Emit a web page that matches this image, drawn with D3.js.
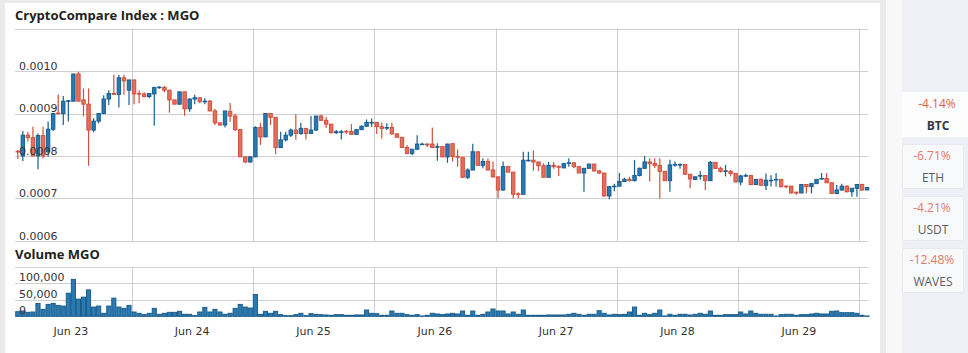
<!DOCTYPE html>
<html>
<head>
<meta charset="utf-8">
<script src="https://cdn.jsdelivr.net/npm/d3@7"></script>
<style>
  body { margin: 0; background: #eaeaea; overflow: hidden; }
  svg { display: block; }
</style>
</head>
<body>
<svg id="chart" width="968" height="353"></svg>
<script>
// Hourly candles starting Jun 23 01:00, prices in units of 0.0001
const PRICE_UNIT = 1e-4;
const VOLUME_UNIT = 1000;
const firstHour = Date.UTC(2018, 5, 23, 1);

const opens = [
  8.11, 8.00, 8.49, 8.43, 8.00, 8.48, 8.10, 8.63, 9.01, 9.00,
  9.29, 9.29, 9.93, 9.32, 9.22, 8.61, 8.82, 9.00, 9.34, 9.47,
  9.45, 9.84, 9.55, 9.79, 9.47, 9.46, 9.40, 9.46, 9.61, 9.61,
  9.55, 9.32, 9.22, 9.51, 9.11, 9.34, 9.37, 9.28, 9.29, 9.06,
  8.78, 8.73, 9.05, 8.94, 8.62, 7.98, 7.86, 7.98, 8.67, 8.45,
  9.00, 8.91, 8.20, 8.38, 8.49, 8.61, 8.53, 8.65, 8.53, 8.61,
  8.94, 8.84, 8.75, 8.55, 8.57, 8.58, 8.58, 8.51, 8.62, 8.70,
  8.79, 8.79, 8.69, 8.67, 8.67, 8.52, 8.44, 8.20, 8.06, 8.16,
  8.28, 8.28, 8.28, 8.22, 8.22, 7.98, 8.29, 7.99, 7.97, 7.50,
  7.67, 8.10, 7.78, 7.87, 7.67, 7.51, 7.20, 7.75, 7.62, 7.11,
  7.10, 7.90, 7.90, 7.86, 7.77, 7.50, 7.78, 7.75, 7.72, 7.84,
  7.84, 7.75, 7.60, 7.71, 7.81, 7.65, 7.60, 7.06, 7.29, 7.29,
  7.40, 7.45, 7.42, 7.54, 7.71, 7.86, 7.82, 7.78, 7.64, 7.42,
  7.79, 7.80, 7.80, 7.57, 7.45, 7.53, 7.54, 7.42, 7.85, 7.71,
  7.65, 7.64, 7.59, 7.39, 7.54, 7.54, 7.33, 7.45, 7.31, 7.43,
  7.45, 7.45, 7.29, 7.29, 7.15, 7.13, 7.33, 7.28, 7.35, 7.47,
  7.47, 7.37, 7.12, 7.20, 7.29, 7.16, 7.24, 7.33, 7.20
];
const highs = [
  8.14, 8.59, 8.57, 8.69, 8.53, 8.69, 8.81, 9.00, 9.45, 9.41,
  9.31, 9.93, 9.98, 9.59, 9.59, 8.89, 8.92, 9.43, 9.55, 9.91,
  9.91, 9.91, 9.79, 9.79, 9.55, 9.50, 9.47, 9.63, 9.65, 9.65,
  9.55, 9.32, 9.51, 9.51, 9.36, 9.44, 9.37, 9.36, 9.32, 9.11,
  8.78, 9.06, 9.25, 9.00, 8.62, 7.98, 7.98, 8.70, 8.78, 9.00,
  9.00, 8.91, 8.57, 8.57, 8.65, 8.98, 8.78, 8.65, 8.94, 8.94,
  8.97, 8.92, 8.75, 8.61, 8.61, 8.61, 8.75, 8.62, 8.72, 8.86,
  8.88, 8.79, 8.79, 8.77, 8.78, 8.53, 8.44, 8.26, 8.16, 8.49,
  8.31, 8.30, 8.67, 8.30, 8.22, 8.29, 8.29, 8.15, 7.97, 7.71,
  8.29, 8.10, 7.95, 7.94, 7.87, 7.51, 7.87, 7.75, 7.62, 7.15,
  8.10, 8.10, 8.13, 7.86, 7.83, 7.86, 7.86, 7.78, 7.84, 7.95,
  7.86, 7.75, 7.71, 7.81, 7.81, 7.67, 7.60, 7.29, 7.35, 7.60,
  7.49, 7.51, 7.91, 7.73, 8.00, 7.95, 7.95, 7.95, 7.64, 7.91,
  7.87, 7.83, 7.80, 7.57, 7.52, 7.65, 7.54, 7.88, 7.85, 7.75,
  7.79, 7.67, 7.59, 7.56, 7.58, 7.54, 7.45, 7.47, 7.59, 7.55,
  7.60, 7.45, 7.31, 7.29, 7.15, 7.33, 7.33, 7.37, 7.45, 7.60,
  7.60, 7.37, 7.32, 7.35, 7.31, 7.24, 7.33, 7.35, 7.26
];
const lows = [
  7.93, 7.88, 8.34, 8.00, 7.69, 7.95, 7.98, 8.59, 8.98, 8.73,
  8.81, 9.29, 9.29, 8.93, 7.77, 8.56, 8.77, 8.98, 9.20, 9.45,
  9.14, 9.44, 9.20, 9.22, 9.24, 9.38, 9.36, 8.71, 9.58, 9.50,
  9.02, 9.22, 9.20, 8.95, 9.04, 9.22, 9.24, 9.22, 9.06, 8.73,
  8.71, 8.67, 8.80, 8.59, 7.98, 7.83, 7.84, 7.97, 8.26, 8.45,
  8.73, 8.05, 8.20, 8.34, 8.45, 8.38, 8.50, 8.39, 8.53, 8.59,
  8.83, 8.66, 8.53, 8.52, 8.39, 8.52, 8.51, 8.51, 8.61, 8.69,
  8.69, 8.52, 8.41, 8.61, 8.50, 8.44, 8.20, 8.05, 8.02, 8.14,
  8.26, 8.21, 8.20, 7.89, 7.97, 7.84, 7.87, 7.75, 7.48, 7.46,
  7.67, 7.78, 7.71, 7.67, 7.49, 7.00, 7.18, 7.62, 7.00, 7.00,
  7.10, 7.87, 7.65, 7.65, 7.50, 7.50, 7.70, 7.53, 7.72, 7.75,
  7.71, 7.60, 7.16, 7.71, 7.63, 7.57, 7.04, 6.98, 7.17, 7.29,
  7.40, 7.40, 7.40, 7.52, 7.70, 7.40, 7.71, 7.00, 7.42, 7.16,
  7.75, 7.70, 7.56, 7.24, 7.44, 7.44, 7.20, 7.42, 7.69, 7.61,
  7.52, 7.52, 7.39, 7.31, 7.51, 7.31, 7.31, 7.31, 7.20, 7.28,
  7.28, 7.26, 7.24, 7.12, 7.08, 7.13, 7.12, 7.12, 7.35, 7.45,
  7.37, 7.12, 7.10, 7.19, 7.14, 7.04, 7.04, 7.18, 7.20
];
const closes = [
  8.10, 8.49, 8.43, 8.00, 8.48, 8.00, 8.63, 9.00, 9.00, 9.29,
  9.30, 9.93, 9.29, 9.22, 8.61, 8.82, 9.00, 9.34, 9.47, 9.45,
  9.84, 9.77, 9.79, 9.46, 9.46, 9.40, 9.47, 9.61, 9.62, 9.55,
  9.32, 9.22, 9.51, 9.11, 9.34, 9.37, 9.28, 9.29, 9.06, 8.78,
  8.73, 9.06, 8.94, 8.62, 7.98, 7.86, 7.98, 8.67, 8.45, 9.00,
  8.91, 8.20, 8.38, 8.49, 8.61, 8.53, 8.65, 8.53, 8.61, 8.94,
  8.84, 8.75, 8.55, 8.57, 8.57, 8.57, 8.51, 8.62, 8.70, 8.79,
  8.79, 8.69, 8.65, 8.67, 8.52, 8.44, 8.20, 8.06, 8.16, 8.28,
  8.28, 8.26, 8.20, 8.22, 7.98, 8.28, 7.99, 7.97, 7.50, 7.67,
  8.10, 7.78, 7.87, 7.67, 7.51, 7.20, 7.75, 7.62, 7.10, 7.10,
  7.90, 7.90, 7.86, 7.77, 7.50, 7.78, 7.75, 7.74, 7.82, 7.84,
  7.75, 7.60, 7.71, 7.81, 7.65, 7.60, 7.06, 7.28, 7.29, 7.40,
  7.45, 7.42, 7.54, 7.71, 7.86, 7.82, 7.78, 7.64, 7.42, 7.79,
  7.80, 7.80, 7.57, 7.46, 7.51, 7.54, 7.42, 7.85, 7.71, 7.64,
  7.65, 7.59, 7.39, 7.53, 7.54, 7.33, 7.45, 7.31, 7.43, 7.43,
  7.45, 7.28, 7.28, 7.13, 7.13, 7.33, 7.28, 7.35, 7.45, 7.47,
  7.37, 7.12, 7.20, 7.29, 7.16, 7.24, 7.33, 7.20, 7.26
];
// volume in thousands
const volumes = [
  14, 16, 12, 13, 39, 21, 36, 39, 33, 31,
  70, 112, 52, 58, 80, 28, 31, 9, 31, 55,
  28, 24, 33, 13, 9, 5, 9, 24, 6, 9,
  12, 12, 15, 6, 6, 2, 13, 27, 13, 21,
  13, 6, 9, 24, 36, 28, 25, 66, 6, 15,
  9, 15, 5, 2, 2, 5, 9, 2, 8, 6,
  5, 4, 3, 5, 5, 3, 3, 4, 4, 19,
  9, 8, 3, 3, 16, 9, 9, 5, 3, 5,
  1, 3, 9, 7, 5, 7, 9, 7, 16, 3,
  16, 3, 6, 13, 22, 16, 16, 7, 13, 6,
  19, 3, 3, 3, 3, 4, 4, 4, 4, 6,
  9, 6, 3, 6, 6, 17, 9, 4, 6, 5,
  6, 13, 28, 3, 9, 5, 9, 19, 1, 6,
  3, 6, 6, 4, 6, 9, 6, 16, 3, 3,
  5, 5, 5, 13, 7, 16, 9, 6, 6, 6,
  1, 5, 6, 6, 3, 5, 5, 7, 9, 7,
  7, 15, 16, 11, 11, 11, 9, 3, 1
];

const priceTicks = [0.0006, 0.0007, 0.0008, 0.0009, 0.0010, 0.0011];
const volumeTicks = [0, 50000, 100000, 150000];
const dayLabels = ['Jun 23', 'Jun 24', 'Jun 25', 'Jun 26', 'Jun 27', 'Jun 28', 'Jun 29'];
const pairs = ['BTC', 'ETH', 'USDT', 'WAVES'];
const pairChanges = ['-4.14%', '-6.71%', '-4.21%', '-12.48%'];

const candles = opens.map((o, i) => ({
  t: new Date(firstHour + i * 3600e3),
  open: o * PRICE_UNIT,
  high: highs[i] * PRICE_UNIT,
  low: lows[i] * PRICE_UNIT,
  close: closes[i] * PRICE_UNIT,
  volume: volumes[i] * VOLUME_UNIT
}));

const svg = d3.select('#chart');
const axisFont = '"DejaVu Sans", Verdana, sans-serif';
const titleFont = '"Open Sans", sans-serif';

// panel backgrounds
svg.append('rect').attr('x', 5).attr('y', 3).attr('width', 875).attr('height', 350).attr('fill', '#fff');
svg.append('rect').attr('x', 886).attr('y', 0).attr('width', 82).attr('height', 353).attr('fill', '#f8f8f8');
svg.append('rect').attr('x', 902).attr('y', 0).attr('width', 66).attr('height', 353).attr('fill', '#eef0f5');

// scales
const x = d3.scaleUtc()
  .domain([new Date(Date.UTC(2018, 5, 23, 0, 57)), new Date(Date.UTC(2018, 5, 30, 1, 41))])
  .range([15, 868]);
const y = d3.scaleLinear().domain([0.0006, 0.0011]).range([241, 28.5]);
const yv = d3.scaleLinear().domain([0, 150000]).range([316.3, 266.8]);

const crisp = v => Math.round(v) + 0.5;
const grid = svg.append('g').attr('stroke', '#cfcfcf').attr('stroke-width', 1);

// vertical day gridlines (midnight)
const midnights = d3.utcDay.range(new Date(Date.UTC(2018, 5, 24)), new Date(Date.UTC(2018, 5, 30, 1)));
midnights.forEach(d => {
  const gx = crisp(x(d));
  grid.append('line').attr('x1', gx).attr('x2', gx).attr('y1', y(0.0011)).attr('y2', crisp(y(0.0006)));
  grid.append('line').attr('x1', gx).attr('x2', gx).attr('y1', crisp(yv(150000))).attr('y2', crisp(yv(0)));
});

// horizontal gridlines
priceTicks.forEach(v => {
  grid.append('line').attr('x1', 15).attr('x2', 868).attr('y1', crisp(y(v))).attr('y2', crisp(y(v)));
});
volumeTicks.forEach(v => {
  grid.append('line').attr('x1', 15).attr('x2', 868).attr('y1', crisp(yv(v))).attr('y2', crisp(yv(v)));
});

// candles
const upFill = '#2a7ab2', upStroke = '#175f92';
const downFill = '#e2705e', downStroke = '#d2503d';
const half = 30 * 60e3;
const bodyW = 3.4;

const cg = svg.append('g');
candles.forEach(c => {
  const cx = x(new Date(+c.t + half));
  const up = c.close >= c.open;
  const stroke = up ? upStroke : downStroke;
  cg.append('line')
    .attr('x1', cx).attr('x2', cx)
    .attr('y1', y(c.high)).attr('y2', y(c.low))
    .attr('stroke', stroke).attr('stroke-width', 1.2);
  const top = y(Math.max(c.open, c.close));
  const bot = y(Math.min(c.open, c.close));
  cg.append('rect')
    .attr('x', cx - bodyW / 2).attr('width', bodyW)
    .attr('y', top).attr('height', Math.max(bot - top, 0.6))
    .attr('fill', up ? upFill : downFill)
    .attr('stroke', stroke).attr('stroke-width', 1);
});

// volume bars
const vg = svg.append('g');
candles.forEach(c => {
  const cx = x(new Date(+c.t + half));
  vg.append('rect')
    .attr('x', cx - 2.05).attr('width', 4.1)
    .attr('y', yv(c.volume)).attr('height', yv(0) - yv(c.volume))
    .attr('fill', '#2a7ab2')
    .attr('stroke', '#1b5d8c').attr('stroke-width', 1);
});

// price labels
const fmtPrice = d3.format('.4f');
svg.append('g').selectAll('text')
  .data(priceTicks.slice(0, 5))
  .join('text')
  .attr('x', 19).attr('y', d => y(d) - 1.5)
  .attr('font-family', axisFont).attr('font-size', 11).attr('fill', '#333')
  .text(d => fmtPrice(d));

// volume labels
const fmtVol = d3.format(',');
svg.append('g').selectAll('text')
  .data(volumeTicks.slice(0, 3))
  .join('text')
  .attr('x', 19).attr('y', d => yv(d) - 2)
  .attr('font-family', axisFont).attr('font-size', 11).attr('fill', '#333')
  .text(d => fmtVol(d));

// day labels at noon
svg.append('g').selectAll('text')
  .data(dayLabels)
  .join('text')
  .attr('x', (d, i) => x(new Date(Date.UTC(2018, 5, 23 + i, 12))))
  .attr('y', 335)
  .attr('text-anchor', 'middle')
  .attr('font-family', axisFont).attr('font-size', 11).attr('fill', '#333')
  .text(d => d);

// titles
svg.append('text').attr('x', 15).attr('y', 20)
  .attr('font-family', titleFont).attr('font-size', 13).attr('font-weight', 'bold').attr('fill', '#222')
  .text('CryptoCompare Index : MGO');
svg.append('text').attr('x', 15).attr('y', 259)
  .attr('font-family', titleFont).attr('font-size', 13).attr('font-weight', 'bold').attr('fill', '#222')
  .text('Volume MGO');

// right-hand pair list
const side = svg.append('g');
pairs.forEach((p, i) => {
  const selected = i === 0;
  const top = selected ? 92 : 144 + (i - 1) * 52;
  if (selected) {
    side.append('rect').attr('x', 902).attr('y', top).attr('width', 66).attr('height', 45).attr('fill', '#fdfdfd');
  } else {
    side.append('rect').attr('x', 902.5).attr('y', top + 0.5).attr('width', 61).attr('height', 44)
      .attr('rx', 2).attr('fill', '#f8f9fb').attr('stroke', '#e7e9ee');
  }
  const cx = selected ? 937 : 932;
  side.append('text').attr('x', cx).attr('y', top + 16)
    .attr('text-anchor', 'middle')
    .attr('font-family', titleFont).attr('font-size', 12)
    .attr('fill', selected ? '#df5f4e' : '#e07a6e')
    .text(pairChanges[i]);
  side.append('text').attr('x', cx + 1).attr('y', top + 38)
    .attr('text-anchor', 'middle')
    .attr('font-family', titleFont).attr('font-size', 12)
    .attr('font-weight', selected ? 'bold' : 'normal')
    .attr('fill', selected ? '#2f3b4c' : '#5b5e63')
    .text(p);
});
</script>
</body>
</html>
